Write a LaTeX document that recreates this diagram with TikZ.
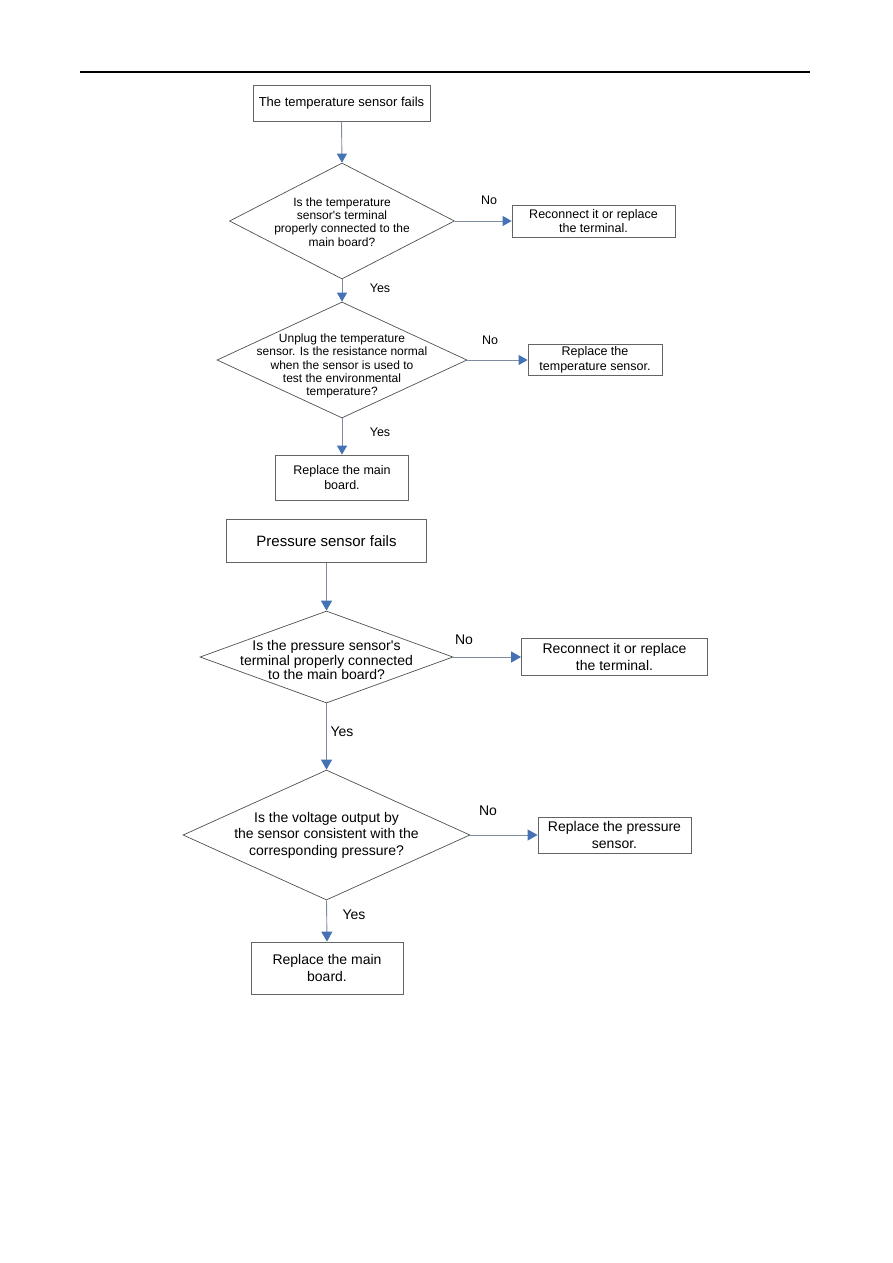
\documentclass[tikz,border=0pt]{standalone}
\usepackage{fontspec}
\setmainfont{Liberation Sans}
\newfontfamily\af{Liberation Sans}
\usetikzlibrary{shapes.geometric,arrows.meta}
\definecolor{conn}{RGB}{125,140,160}
\definecolor{tipc}{RGB}{68,114,180}
\definecolor{boxc}{RGB}{100,100,100}
\tikzset{
  box/.style={draw=boxc,line width=0.8pt,rectangle,align=center,inner sep=0pt},
  dia/.style={draw=boxc!80!black,line width=0.7pt,diamond,inner sep=0pt},
  txt/.style={align=center,inner sep=0pt},
  conarrow/.style={draw=conn,line width=0.9pt,-{Triangle[length=9pt,width=10pt,fill=tipc,color=tipc]}},
  conarrowb/.style={draw=conn,line width=0.9pt,-{Triangle[length=10pt,width=11pt,fill=tipc,color=tipc]}},
  small/.style={font=\af\fontsize{12}{13.4}\selectfont},
  big/.style={font=\af\fontsize{14}{16.6}\selectfont},
  lab/.style={inner sep=0pt,anchor=center}
}
\begin{document}
\af
\begin{tikzpicture}[x=1pt,y=-1pt]
\useasboundingbox[fill=white] (0,0) rectangle (893,1263);
\coordinate (rl) at (80,72);
\coordinate (rr) at (810,72);
\draw[line width=1.1pt] (rl) -- (rr);

% ---------- temperature sensor ----------
\node[box,minimum width=177,minimum height=36,font=\af\fontsize{13}{15}\selectfont] (b1) at (341.5,103) {The temperature sensor fails};
\node[dia,minimum width=225,minimum height=116] (d1) at (342,221) {};
\node[txt,small] (d1t) at (342,222) {Is the temperature\\sensor's terminal\\properly connected to the\\main board?};
\node[box,minimum width=163,minimum height=32,font=\af\fontsize{12.5}{14}\selectfont] (r1) at (593.5,221) {Reconnect it or replace\\the terminal.};
\node[dia,minimum width=250,minimum height=116] (d2) at (342,360) {};
\node[txt,small] (d2t) at (342,366) {Unplug the temperature\\sensor. Is the resistance normal\\when the sensor is used to\\test the environmental\\temperature?};
\node[box,minimum width=134,minimum height=31,font=\af\fontsize{12.5}{15}\selectfont] (r2) at (595,360) {Replace the\\temperature sensor.};
\node[box,minimum width=133,minimum height=45,font=\af\fontsize{12.5}{15}\selectfont] (m1) at (342,477.5) {Replace the main\\board.};

\draw[conarrow] (b1.south) -- (d1.north);
\draw[conarrow] (d1.east) -- (r1.west);
\draw[conarrow] (d1.south) -- (d2.north);
\draw[conarrow] (d2.east) -- (r2.west);
\draw[conarrow] (d2.south) -- (m1.north);

\node[lab,font=\af\fontsize{12.5}{14}\selectfont] (n1) at (489,200) {No};
\node[lab,font=\af\fontsize{12.5}{14}\selectfont] (y1) at (380,288) {Yes};
\node[lab,font=\af\fontsize{12.5}{14}\selectfont] (n2) at (490,340) {No};
\node[lab,font=\af\fontsize{12.5}{14}\selectfont] (y2) at (380,432) {Yes};

% ---------- pressure sensor ----------
\node[box,minimum width=200,minimum height=43,font=\af\fontsize{15}{17}\selectfont] (b2) at (326.5,541) {Pressure sensor fails};
\node[dia,minimum width=253,minimum height=92] (d3) at (326.5,657) {};
\node[txt,font=\af\fontsize{14}{14.8}\selectfont] (d3t) at (326.5,660) {Is the pressure sensor's\\terminal properly connected\\to the main board?};
\node[box,big,minimum width=186,minimum height=37] (r3) at (614.5,657) {Reconnect it or replace\\the terminal.};
\node[dia,minimum width=287,minimum height=130] (d4) at (326.5,835) {};
\node[txt,big] (d4t) at (326.5,835) {Is the voltage output by\\the sensor consistent with the\\corresponding pressure?};
\node[box,big,minimum width=153,minimum height=36] (r4) at (614.5,835) {Replace the pressure\\sensor.};
\node[box,big,minimum width=152,minimum height=52] (m2) at (327,968) {Replace the main\\board.};

\draw[conarrowb] (b2.south) -- (d3.north);
\draw[conarrowb] (d3.east) -- (r3.west);
\draw[conarrowb] (d3.south) -- (d4.north);
\draw[conarrowb] (d4.east) -- (r4.west);
\draw[conarrowb] (d4.south) -- (m2.north);

\node[lab,font=\af\fontsize{14}{16}\selectfont] (n3) at (464,640) {No};
\node[lab,font=\af\fontsize{14}{16}\selectfont] (y3) at (342,732) {Yes};
\node[lab,font=\af\fontsize{14}{16}\selectfont] (n4) at (488,811) {No};
\node[lab,font=\af\fontsize{14}{16}\selectfont] (y4) at (354,915) {Yes};
\end{tikzpicture}
\end{document}
